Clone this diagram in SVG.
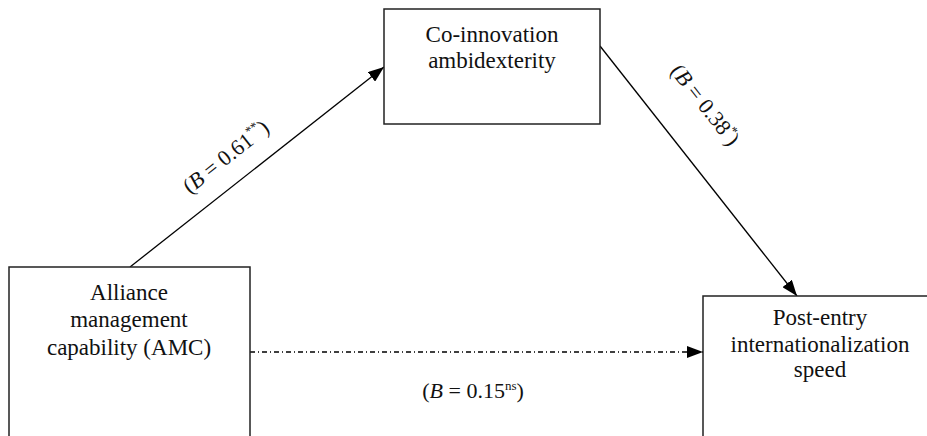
<svg xmlns="http://www.w3.org/2000/svg" width="927" height="436" viewBox="0 0 927 436">
<style>
.box{fill:#fff;stroke:#222;stroke-width:1.5}
.t{font-family:"Liberation Serif","Times New Roman",serif;font-size:22px;fill:#111;text-anchor:middle}
.n{font-size:23px}
.edge{stroke:#000;stroke-width:1.3;fill:none}
.sup{font-size:13px}
</style>
<defs>
<marker id="ah" markerUnits="userSpaceOnUse" markerWidth="16" markerHeight="12" refX="16" refY="6" orient="auto">
<path d="M0,0 L16,6 L0,12 Z" fill="#000"/>
</marker>
</defs>
<rect width="927" height="436" fill="#fff"/>
<g id="connectors">
<line class="edge" x1="130" y1="267" x2="384" y2="67" marker-end="url(#ah)"/>
<line class="edge" x1="600" y1="46" x2="797" y2="296" marker-end="url(#ah)"/>
<line class="edge" x1="250" y1="352" x2="703" y2="352" stroke-dasharray="5 3 1 3" marker-end="url(#ah)"/>
<text class="t" transform="translate(226,157) rotate(-38.3)" dy="7">(<tspan font-style="italic">B</tspan> = 0.61<tspan class="sup" dy="-9">**</tspan><tspan dy="9">)</tspan></text>
<text class="t" transform="translate(705,105) rotate(51.7)" dy="7">(<tspan font-style="italic">B</tspan> = 0.38<tspan class="sup" dy="-9">*</tspan><tspan dy="9">)</tspan></text>
<text class="t" x="473" y="398">(<tspan font-style="italic">B</tspan> = 0.15<tspan class="sup" dy="-8">ns</tspan><tspan dy="8">)</tspan></text>
</g>
<g id="amc">
<rect class="box" x="9" y="267" width="241" height="190"/>
<text class="t n" x="129" y="300">Alliance</text>
<text class="t n" x="129" y="327">management</text>
<text class="t n" x="129" y="355">capability (AMC)</text>
</g>
<g id="coinnovation">
<rect class="box" x="384" y="9" width="216" height="115"/>
<text class="t n" x="492" y="42">Co-innovation</text>
<text class="t n" x="492" y="68">ambidexterity</text>
</g>
<g id="speed">
<rect class="box" x="703" y="296" width="240" height="160"/>
<text class="t n" x="820" y="325">Post-entry</text>
<text class="t n" x="820" y="352">internationalization</text>
<text class="t n" x="820" y="377">speed</text>
</g>
</svg>
